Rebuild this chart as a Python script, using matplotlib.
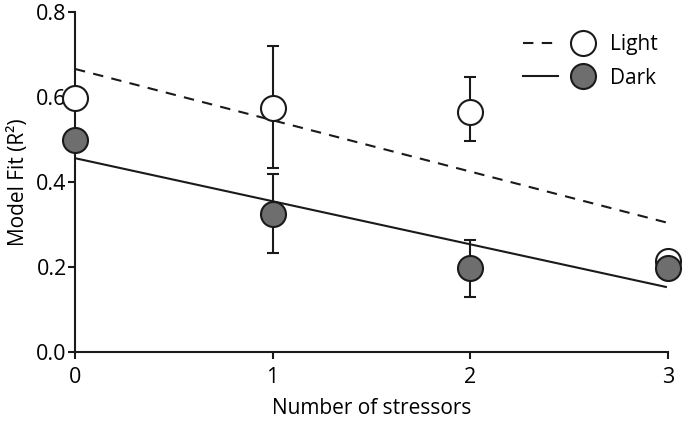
import matplotlib.pyplot as plt
import numpy as np
from matplotlib.legend_handler import HandlerTuple
from matplotlib.lines import Line2D

plt.rcParams['font.family'] = ['Open Sans', 'DejaVu Sans']

# number of stressors
stressors = [0, 1, 2, 3]

# light
light_mean = [0.598, 0.575, 0.565, 0.215]
light_lo = [0.598, 0.432, 0.497, 0.215]
light_hi = [0.598, 0.720, 0.647, 0.215]
light_fit = [0.666, 0.305]   # fitted line at x=0 and x=3

# dark
dark_mean = [0.499, 0.325, 0.198, 0.198]
dark_lo = [0.499, 0.233, 0.130, 0.198]
dark_hi = [0.499, 0.419, 0.264, 0.198]
dark_fit = [0.456, 0.153]

fit_x = [0, 2.99]

x = np.array(stressors)
lm = np.array(light_mean)
dm = np.array(dark_mean)
l_err = [lm - np.array(light_lo), np.array(light_hi) - lm]
d_err = [dm - np.array(dark_lo), np.array(dark_hi) - dm]

fig = plt.figure(figsize=(6.85, 4.21), dpi=100)
ax = fig.add_axes([0.1095, 0.164, 0.8655, 0.8075])

ax.plot(fit_x, light_fit, color='#1a1a1a', lw=1.5, dashes=(5, 4), zorder=2)
ax.plot(fit_x, dark_fit, color='#1a1a1a', lw=1.5, zorder=2)

ax.errorbar(x, lm, yerr=l_err, fmt='none', ecolor='#1a1a1a', elinewidth=1.5,
            capsize=4.5, capthick=1.5, zorder=3, clip_on=False)
ax.errorbar(x, dm, yerr=d_err, fmt='none', ecolor='#1a1a1a', elinewidth=1.5,
            capsize=4.5, capthick=1.5, zorder=3, clip_on=False)

ax.plot(x, lm, 'o', ms=18, mfc='white', mec='#1a1a1a', mew=1.5,
        zorder=4, clip_on=False)
ax.plot(x, dm, 'o', ms=18, mfc='#6e6e6e', mec='#1a1a1a', mew=1.5,
        zorder=5, clip_on=False)

ax.set_xlim(0, 3)
ax.set_ylim(0, 0.8)
ax.set_xticks([0, 1, 2, 3])
ax.set_yticks([0.0, 0.2, 0.4, 0.6, 0.8])
ax.set_yticklabels(['0.0', '0.2', '0.4', '0.6', '0.8'])
ax.spines['top'].set_visible(False)
ax.spines['right'].set_visible(False)
for s in ['left', 'bottom']:
    ax.spines[s].set_linewidth(1.5)
    ax.spines[s].set_color('#1a1a1a')
ax.tick_params(width=1.5, length=5, labelsize=15.5, color='#1a1a1a')
ax.tick_params(axis='x', pad=6)
ax.tick_params(axis='y', pad=1)

ax.set_xlabel('Number of stressors', fontsize=15, labelpad=7)
ax.set_ylabel('Model Fit (R²)', fontsize=15, labelpad=5)

h_light = (Line2D([], [], color='#1a1a1a', lw=1.5, dashes=(5, 4)),
           Line2D([], [], marker='o', ls='none', ms=18, mfc='white',
                  mec='#1a1a1a', mew=1.5))
h_dark = (Line2D([], [], color='#1a1a1a', lw=1.5),
          Line2D([], [], marker='o', ls='none', ms=18, mfc='#6e6e6e',
                 mec='#1a1a1a', mew=1.5))
ax.legend([h_light, h_dark], ['Light', 'Dark'],
          handler_map={tuple: HandlerTuple(ndivide=2, pad=0.36)},
          handlelength=3.73, frameon=False, fontsize=15,
          loc='upper right', bbox_to_anchor=(1.015, 0.99),
          labelspacing=0.6, handletextpad=0.46)

fig.savefig('out.png', dpi=100)
